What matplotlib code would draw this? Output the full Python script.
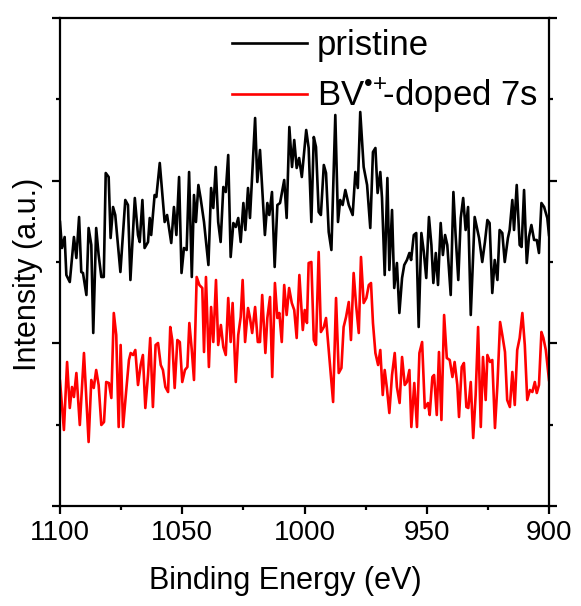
import numpy as np
import matplotlib
matplotlib.use("Agg")
import matplotlib.pyplot as plt
from matplotlib.ticker import MultipleLocator, FixedLocator

plt.rcParams['font.family'] = ['Liberation Sans', 'DejaVu Sans']
plt.rcParams['mathtext.fontset'] = 'custom'
plt.rcParams['mathtext.rm'] = 'Liberation Sans'
plt.rcParams['mathtext.it'] = 'Liberation Sans:italic'
plt.rcParams['mathtext.bf'] = 'Liberation Sans:bold'

# ---------------- data (binding energy in eV, intensity in arb. units) ----------------
energy_pristine = [
    1100.0, 1099.2, 1098.1, 1097.4, 1096.0, 1094.3, 1093.3, 1092.2, 1091.3, 1090.6,
    1089.2, 1088.3, 1087.2, 1086.4, 1085.2, 1084.2, 1083.1, 1082.1, 1081.3, 1080.1,
    1079.3, 1078.3, 1077.4, 1075.3, 1073.3, 1072.2, 1071.2, 1069.4, 1068.1, 1067.4,
    1066.3, 1065.4, 1064.0, 1063.3, 1062.7, 1061.3, 1060.6, 1059.2, 1057.2, 1056.2,
    1054.5, 1053.4, 1052.4, 1051.3, 1050.3, 1049.3, 1048.2, 1047.2, 1046.1, 1045.2,
    1044.4, 1043.4, 1042.5, 1041.1, 1039.3, 1038.2, 1037.3, 1036.3, 1035.3, 1034.3,
    1033.2, 1032.2, 1031.2, 1030.2, 1029.1, 1028.1, 1027.1, 1026.1, 1025.0, 1024.2,
    1023.1, 1022.3, 1021.4, 1020.2, 1019.3, 1018.2, 1017.3, 1016.2, 1015.2, 1014.4,
    1013.3, 1012.2, 1011.1, 1010.0, 1008.3, 1007.3, 1006.2, 1005.1, 1004.2, 1003.2,
    1002.2, 1001.1, 999.3, 998.3, 997.2, 996.2, 995.3, 994.2, 993.3, 992.1,
    991.2, 990.1, 989.0, 987.4, 986.3, 985.4, 984.4, 983.3, 981.9, 980.3,
    979.2, 978.2, 977.2, 975.8, 974.4, 973.1, 972.0, 971.0, 970.1, 969.0,
    968.3, 967.2, 966.1, 965.3, 964.2, 963.3, 962.2, 961.2, 960.1, 959.2,
    958.1, 957.1, 956.4, 955.3, 954.3, 953.3, 952.2, 951.2, 950.2, 949.1,
    948.1, 947.3, 946.3, 945.4, 944.3, 943.4, 942.5, 941.6, 940.2, 939.1,
    938.2, 937.1, 936.1, 935.1, 934.1, 933.1, 932.0, 930.4, 928.6, 927.3,
    926.2, 925.2, 924.3, 923.2, 922.2, 921.1, 920.2, 919.1, 918.1, 916.8,
    916.1, 915.0, 914.3, 913.2, 912.0, 911.2, 910.2, 909.1, 908.2, 907.2,
    906.1, 905.0, 904.1, 903.1, 902.0, 900.7, 900.0,
]
intensity_pristine = [
    284, 258, 269, 231, 224, 269, 248, 289, 234, 233,
    211, 278, 261, 173, 278, 251, 229, 229, 333, 329,
    268, 299, 291, 234, 306, 301, 226, 308, 271, 264,
    306, 258, 264, 288, 271, 311, 309, 343, 284, 291,
    263, 299, 271, 329, 233, 258, 256, 334, 229, 311,
    284, 321, 308, 284, 241, 318, 298, 339, 284, 264,
    319, 314, 351, 249, 283, 279, 288, 264, 303, 276,
    318, 288, 331, 388, 324, 356, 318, 271, 303, 291,
    314, 239, 301, 303, 326, 288, 379, 339, 366, 338,
    348, 329, 376, 358, 284, 369, 359, 294, 291, 341,
    333, 274, 256, 391, 284, 306, 301, 316, 301, 291,
    334, 318, 394, 339, 321, 278, 354, 358, 313, 334,
    308, 231, 328, 236, 296, 218, 243, 193, 228, 241,
    246, 253, 246, 271, 273, 179, 273, 254, 228, 289,
    261, 223, 253, 221, 283, 251, 271, 261, 211, 314,
    271, 226, 288, 308, 276, 299, 191, 289, 268, 244,
    264, 286, 283, 213, 246, 226, 276, 273, 244, 268,
    276, 306, 276, 321, 261, 259, 316, 243, 269, 281,
    266, 266, 253, 303, 299, 288, 271,
]

energy_doped = [
    1100.0, 1098.4, 1097.1, 1096.0, 1095.1, 1094.3, 1093.3, 1091.9, 1090.2, 1088.3,
    1087.2, 1086.2, 1085.2, 1084.2, 1083.1, 1082.0, 1081.1, 1080.0, 1079.0, 1078.0,
    1077.0, 1076.0, 1075.2, 1074.2, 1072.9, 1071.8, 1071.1, 1070.1, 1069.2, 1068.1,
    1067.0, 1066.1, 1065.1, 1064.0, 1063.1, 1062.0, 1060.9, 1059.9, 1058.8, 1057.9,
    1056.9, 1055.8, 1054.9, 1054.1, 1053.1, 1052.0, 1051.0, 1050.0, 1048.9, 1047.9,
    1047.1, 1046.1, 1045.2, 1044.1, 1043.0, 1041.8, 1041.1, 1040.3, 1039.1, 1038.2,
    1037.3, 1036.2, 1035.3, 1034.2, 1033.2, 1032.2, 1031.2, 1030.2, 1029.4, 1028.1,
    1027.1, 1026.1, 1025.3, 1024.3, 1023.1, 1022.3, 1021.4, 1020.2, 1019.1, 1018.2,
    1017.3, 1016.0, 1015.2, 1014.1, 1013.2, 1012.1, 1011.1, 1010.3, 1009.3, 1008.3,
    1007.3, 1006.3, 1005.2, 1004.2, 1003.2, 1002.1, 1000.7, 999.9, 999.0, 998.3,
    997.2, 996.2, 995.3, 994.2, 993.3, 992.1, 991.2, 990.1, 988.3, 987.1,
    986.0, 984.9, 984.0, 983.0, 981.9, 981.0, 979.9, 978.9, 977.8, 976.9,
    975.8, 974.7, 973.7, 972.8, 972.0, 971.0, 969.9, 969.0, 968.0, 967.2,
    966.3, 965.3, 964.2, 963.1, 962.2, 961.1, 960.1, 959.0, 958.1, 957.1,
    956.3, 955.1, 954.0, 953.0, 951.9, 950.8, 949.5, 948.8, 947.7, 947.0,
    945.9, 945.0, 944.0, 942.9, 941.8, 940.6, 939.5, 938.6, 937.5, 936.8,
    935.7, 934.8, 933.8, 933.0, 932.0, 931.0, 930.0, 929.0, 927.9, 927.0,
    925.9, 925.2, 924.1, 923.2, 922.1, 921.1, 920.0, 919.1, 918.0, 917.1,
    916.0, 915.0, 914.0, 913.0, 912.0, 910.9, 909.9, 908.9, 907.8, 906.8,
    905.8, 905.0, 904.1, 903.1, 902.3, 901.3, 900.0,
]
intensity_doped = [
    125, 76, 144, 98, 119, 109, 133, 81, 153, 64,
    126, 118, 136, 121, 81, 84, 124, 123, 108, 193,
    171, 79, 161, 79, 116, 146, 153, 151, 156, 121,
    141, 151, 98, 131, 168, 99, 161, 163, 141, 136,
    119, 114, 179, 166, 118, 166, 164, 124, 136, 139,
    183, 156, 126, 229, 221, 218, 154, 229, 139, 199,
    164, 226, 161, 181, 159, 151, 208, 164, 203, 124,
    171, 189, 226, 164, 198, 188, 173, 199, 164, 164,
    211, 153, 188, 209, 129, 223, 188, 193, 164, 221,
    191, 218, 203, 196, 168, 231, 176, 196, 183, 243,
    244, 166, 161, 254, 174, 179, 188, 156, 104, 208,
    133, 138, 179, 189, 204, 166, 233, 201, 173, 249,
    203, 208, 221, 223, 183, 153, 141, 156, 111, 136,
    118, 93, 131, 153, 119, 103, 149, 121, 124, 136,
    79, 123, 79, 153, 164, 98, 103, 91, 129, 131,
    91, 154, 86, 191, 148, 146, 129, 144, 121, 89,
    139, 143, 99, 98, 124, 68, 111, 179, 79, 149,
    106, 151, 144, 146, 78, 121, 184, 171, 154, 106,
    99, 134, 101, 156, 168, 193, 161, 106, 116, 114,
    124, 113, 121, 174, 168, 156, 126,
]

series_labels = ["pristine", r"BV$^{\mathrm{•{+}}}\!$-doped 7s"]
series_colors = ["#000000", "#ff0000"]
x_ticks = [1100, 1050, 1000, 950, 900]
y_max = 488.0

# ---------------- figure ----------------
fig = plt.figure(figsize=(5.81, 6.06), dpi=100)
ax = fig.add_axes([60 / 581, 100 / 606, 489 / 581, 488 / 606])

ax.plot(energy_pristine, intensity_pristine, color=series_colors[0], lw=1.9,
        label=series_labels[0])
ax.plot(energy_doped, intensity_doped, color=series_colors[1], lw=1.9,
        label=series_labels[1])

ax.set_xlim(1100, 900)
ax.set_ylim(0, y_max)

ax.xaxis.set_major_locator(FixedLocator(x_ticks))
ax.xaxis.set_minor_locator(MultipleLocator(25))
ax.yaxis.set_major_locator(MultipleLocator(y_max / 3))
ax.yaxis.set_minor_locator(MultipleLocator(y_max / 6))

for s in ax.spines.values():
    s.set_linewidth(1.6)

ax.tick_params(axis='x', which='both', direction='out', top=False, bottom=True,
               labelsize=20, width=1.6, pad=4)
ax.tick_params(axis='x', which='major', length=6)
ax.tick_params(axis='x', which='minor', length=3)
ax.tick_params(axis='y', which='both', direction='out', left=True, right=True,
               labelleft=False, labelright=False, width=1.6)
ax.tick_params(axis='y', which='major', length=6)
ax.tick_params(axis='y', which='minor', length=3)

ax.set_xlabel("Binding Energy (eV)", fontsize=22)
ax.xaxis.set_label_coords((285 - 60) / 489, (506 - 566) / 488)
ax.set_ylabel("Intensity (a.u.)", fontsize=22)
ax.yaxis.set_label_coords((43 - 60) / 489, (506 - 274) / 488)

leg = ax.legend(loc='upper right', frameon=False, fontsize=25,
                handlelength=2.15, handletextpad=0.3, labelspacing=0.42,
                borderpad=0.0, borderaxespad=0.32, bbox_to_anchor=(1.0, 1.0))

fig.savefig("out.png", dpi=100)
